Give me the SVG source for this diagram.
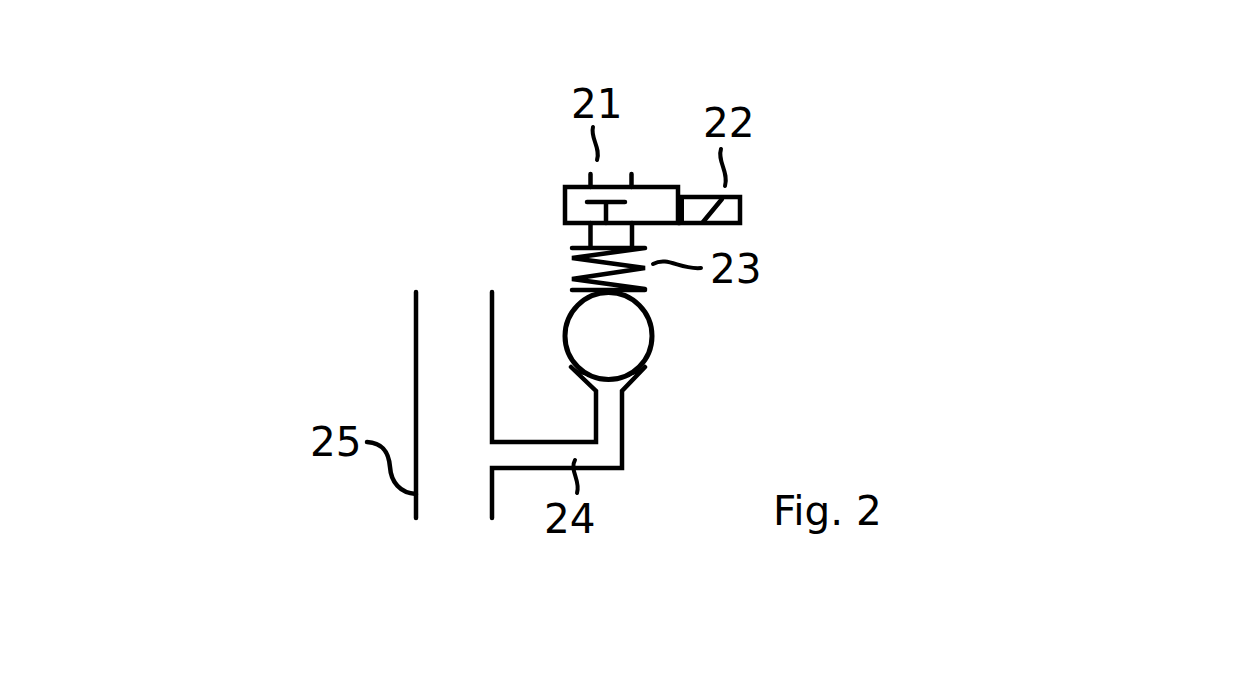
<svg xmlns="http://www.w3.org/2000/svg" width="1239" height="700" viewBox="0 0 1239 700">
<style>
.l{fill:none;stroke:#000;stroke-width:4.500;stroke-linecap:round;stroke-linejoin:miter}
.t{fill:none;stroke:#000;stroke-width:4;stroke-linecap:round}
text{font-family:"DejaVu Sans",sans-serif;font-size:40.500px;fill:#000}
</style>
<rect width="1239" height="700" fill="#fff"/>
<g id="valve-21">
<path class="l" d="M565 187H678V223H565Z"/>
<path class="l" d="M590.500 174V187M631.500 174V187M587 202H625M606 202V223M590.500 223V247M632 223V247"/>
</g>
<g id="solenoid-22">
<path class="l" d="M680 197H740V223H680Z"/>
<path d="M678 197H684V223H678Z" fill="#000"/>
<path class="l" d="M703 222L722 199"/>
</g>
<g id="spring-23">
<path class="l" d="M572 248H645M645 248L572 258L645 268L572 279L645 289M572 290H645"/>
</g>
<g id="ball">
<circle cx="608.500" cy="336" r="43.500" fill="#fff" stroke="#000" stroke-width="5"/>
</g>
<g id="channel-24">
<path class="l" d="M492 292V442H596V391L571 367"/>
<path class="l" d="M492 518V468H622V391L645 367"/>
<path d="M571 367C580 374 585 374 589 375M645 367C636 374 632 374 628 375" fill="none" stroke="#000" stroke-width="2.500"/>
</g>
<g id="wall-25">
<path class="l" d="M416 292V518"/>
</g>
<g id="connectors">
<path class="t" d="M593 127C590 138 601 148 597 160"/>
<path class="t" d="M721 149C717 161 729 172 725 186"/>
<path class="t" d="M653 264C668 256 680 270 701 268"/>
<path class="t" d="M575 460C569 470 581 481 577 493"/>
<path class="l" d="M367 442C385 443 389 455 390 467C391 482 400 493 416 494"/>
</g>
<g id="labels">
<text x="571" y="118">21</text>
<text x="703" y="137">22</text>
<text x="710" y="283">23</text>
<text x="544" y="533">24</text>
<text x="310" y="456">25</text>
<text x="773" y="525">Fig. 2</text>
</g>
</svg>
